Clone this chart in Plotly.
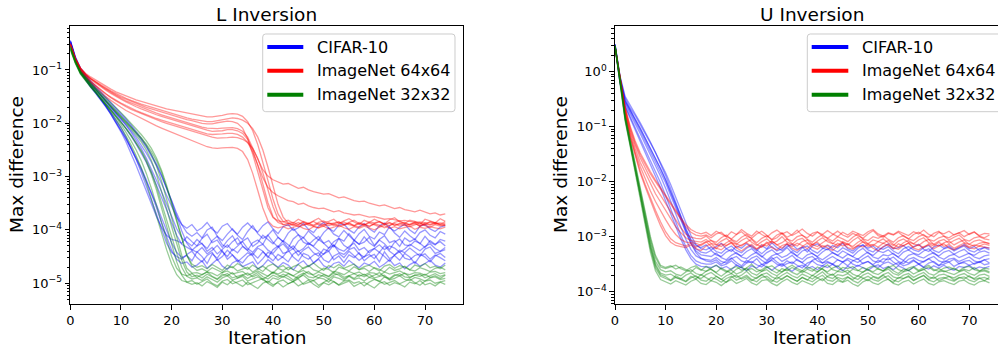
import plotly.graph_objects as go

# ---------------- data (values are log10 of "Max difference", one list per run) -------------
ITERATIONS = list(range(75))

SERIES_NAMES = ["CIFAR-10", "ImageNet 64x64", "ImageNet 32x32"]
SERIES_COLORS = ["#0000ff", "#ff0000", "#008000"]
PANEL_TITLES = ["L Inversion", "U Inversion"]
X_TICKS = [0, 10, 20, 30, 40, 50, 60, 70]
Y_TICK_EXP_L = [-5, -4, -3, -2, -1]
Y_TICK_EXP_U = [-4, -3, -2, -1, 0]

L_CIFAR10 = [
    [-0.46, -0.78, -1.0, -1.13, -1.25, -1.36, -1.47, -1.58, -1.69, -1.8, -1.92, -2.04, -2.17, -2.31, -2.47,
     -2.65, -2.85, -3.06, -3.28, -3.51, -3.75, -3.98, -4.15, -4.22,
     -4.3, -4.18, -4.26, -4.35, -4.2, -4.12, -4.28, -4.33, -4.22, -4.15,
     -4.3, -4.38, -4.24, -4.19, -4.27, -4.1, -4.23, -4.32, -4.2, -4.28,
     -4.36, -4.21, -4.14, -4.26, -4.3, -4.18, -4.25, -4.34, -4.22, -4.16,
     -4.29, -4.35, -4.2, -4.27, -4.13, -4.24, -4.31, -4.19, -4.26, -4.37,
     -4.23, -4.17, -4.28, -4.3, -4.21, -4.25, -4.33, -4.2, -4.27, -4.22, -4.3],
    [-0.48, -0.8, -1.03, -1.17, -1.3, -1.42, -1.54, -1.66, -1.79, -1.93, -2.08, -2.26, -2.46, -2.68, -2.92,
     -3.17, -3.43, -3.7, -3.98, -4.25, -4.42, -4.5,
     -4.55, -4.46, -4.4, -4.52, -4.6, -4.48, -4.42, -4.57, -4.5, -4.38,
     -4.47, -4.56, -4.62, -4.5, -4.44, -4.53, -4.41, -4.49, -4.58, -4.46,
     -4.52, -4.6, -4.45, -4.39, -4.5, -4.55, -4.47, -4.43, -4.56, -4.61,
     -4.49, -4.44, -4.52, -4.4, -4.48, -4.57, -4.5, -4.46, -4.54, -4.42,
     -4.5, -4.59, -4.47, -4.41, -4.53, -4.56, -4.48, -4.45, -4.51, -4.6,
     -4.49, -4.44, -4.52],
    [-0.45, -0.76, -0.97, -1.1, -1.22, -1.33, -1.43, -1.53, -1.63, -1.73, -1.84, -1.95, -2.06, -2.18, -2.31,
     -2.45, -2.61, -2.79, -2.99, -3.21, -3.45, -3.69, -3.9, -4.05, -4.12,
     -4.05, -4.15, -4.0, -3.95, -4.12, -4.2, -4.08, -3.98, -4.1, -4.18,
     -4.03, -3.92, -4.07, -4.16, -4.1, -4.0, -4.14, -4.22, -4.06, -3.97,
     -4.09, -4.15, -4.02, -4.11, -4.19, -4.05, -3.96, -4.08, -4.13, -4.01,
     -4.1, -4.2, -4.07, -3.99, -4.12, -4.17, -4.04, -4.09, -3.94, -4.06,
     -4.14, -4.02, -4.11, -4.18, -4.05, -4.0, -4.1, -4.15, -4.03, -4.08],
    [-0.5, -0.82, -1.05, -1.19, -1.32, -1.44, -1.56, -1.69, -1.83, -1.98, -2.13, -2.29, -2.46, -2.64, -2.84,
     -3.06, -3.31, -3.58, -3.86, -4.13, -4.38, -4.55, -4.63,
     -4.6, -4.7, -4.66, -4.58, -4.72, -4.64, -4.55, -4.68, -4.74, -4.62,
     -4.57, -4.69, -4.65, -4.6, -4.73, -4.67, -4.56, -4.63, -4.7, -4.61,
     -4.66, -4.75, -4.64, -4.58, -4.69, -4.62, -4.55, -4.67, -4.72, -4.63,
     -4.6, -4.68, -4.57, -4.65, -4.71, -4.62, -4.66, -4.59, -4.7, -4.64,
     -4.56, -4.67, -4.62, -4.73, -4.65, -4.6, -4.68, -4.63, -4.57, -4.66,
     -4.7, -4.62],
    [-0.47, -0.79, -1.01, -1.15, -1.27, -1.38, -1.49, -1.6, -1.72, -1.84, -1.97, -2.1, -2.24, -2.39, -2.55,
     -2.73, -2.93, -3.15, -3.38, -3.62, -3.87, -4.1, -4.27, -4.33,
     -4.38, -4.3, -4.25, -4.4, -4.33, -4.45, -4.36, -4.28, -4.39, -4.3,
     -4.22, -4.35, -4.42, -4.31, -4.27, -4.38, -4.44, -4.33, -4.26, -4.37,
     -4.3, -4.41, -4.35, -4.24, -4.32, -4.39, -4.46, -4.34, -4.29, -4.36,
     -4.4, -4.31, -4.25, -4.38, -4.33, -4.43, -4.35, -4.28, -4.37, -4.3,
     -4.34, -4.42, -4.36, -4.27, -4.33, -4.39, -4.31, -4.26, -4.35, -4.4, -4.33],
    [-0.46, -0.77, -0.99, -1.12, -1.24, -1.35, -1.46, -1.57, -1.68, -1.79, -1.9, -2.02, -2.14, -2.27, -2.41,
     -2.56, -2.73, -2.92, -3.13, -3.35, -3.57, -3.76, -3.9, -3.97,
     -3.9, -4.02, -3.96, -3.86, -3.99, -4.06, -3.93, -3.88, -4.0, -4.08,
     -3.95, -3.87, -3.97, -4.04, -3.92, -3.85, -3.98, -4.07, -3.94, -3.9,
     -4.01, -3.96, -3.88, -3.99, -4.05, -3.93, -3.86, -3.97, -4.03, -3.91,
     -3.89, -4.0, -4.06, -3.94, -3.88, -3.98, -4.04, -3.92, -3.87, -3.96,
     -4.02, -3.95, -3.89, -4.0, -4.07, -3.93, -3.9, -3.98, -4.03, -3.95, -3.92],
    [-0.49, -0.81, -1.04, -1.18, -1.31, -1.43, -1.55, -1.68, -1.82, -1.97, -2.13, -2.3, -2.48, -2.67, -2.87,
     -3.08, -3.3, -3.53, -3.77, -4.01, -4.24, -4.42, -4.52,
     -4.48, -4.58, -4.41, -4.5, -4.63, -4.45, -4.53, -4.39, -4.55, -4.47,
     -4.6, -4.52, -4.43, -4.49, -4.64, -4.54, -4.42, -4.46, -4.57, -4.5,
     -4.38, -4.51, -4.59, -4.44, -4.48, -4.62, -4.53, -4.45, -4.4, -4.56,
     -4.49, -4.61, -4.47, -4.52, -4.43, -4.58, -4.5, -4.46, -4.6, -4.41,
     -4.54, -4.48, -4.57, -4.44, -4.51, -4.63, -4.49, -4.45, -4.55, -4.47,
     -4.52, -4.58],
    [-0.47, -0.79, -1.02, -1.16, -1.29, -1.41, -1.54, -1.68, -1.83, -1.99, -2.16, -2.35, -2.56, -2.79, -3.03,
     -3.28, -3.52, -3.75, -3.95, -4.1, -4.18, -4.2,
     -4.25, -4.13, -4.22, -4.3, -4.16, -4.08, -4.24, -4.19, -4.33, -4.2,
     -4.11, -4.27, -4.21, -4.15, -4.31, -4.24, -4.1, -4.18, -4.26, -4.14,
     -4.22, -4.34, -4.17, -4.09, -4.23, -4.28, -4.19, -4.12, -4.25, -4.2,
     -4.32, -4.16, -4.21, -4.07, -4.19, -4.27, -4.23, -4.14, -4.29, -4.18,
     -4.11, -4.24, -4.2, -4.31, -4.15, -4.22, -4.17, -4.26, -4.12, -4.23,
     -4.28, -4.18, -4.21],
    [-0.44, -0.75, -0.96, -1.09, -1.2, -1.3, -1.4, -1.5, -1.6, -1.7, -1.81, -1.92, -2.03, -2.15, -2.28,
     -2.42, -2.58, -2.76, -2.97, -3.2, -3.46, -3.74, -4.02, -4.25, -4.37,
     -4.42, -4.33, -4.45, -4.38, -4.29, -4.41, -4.5, -4.36, -4.43, -4.31,
     -4.39, -4.47, -4.34, -4.4, -4.52, -4.37, -4.3, -4.44, -4.41, -4.35,
     -4.48, -4.38, -4.32, -4.43, -4.49, -4.36, -4.4, -4.28, -4.42, -4.46,
     -4.37, -4.33, -4.45, -4.51, -4.39, -4.35, -4.42, -4.3, -4.4, -4.47,
     -4.38, -4.43, -4.34, -4.41, -4.49, -4.36, -4.32, -4.44, -4.4, -4.37],
]

L_IMAGENET64 = [
    [-0.52, -0.8, -0.99, -1.1, -1.18, -1.25, -1.32, -1.38, -1.44, -1.5, -1.55, -1.6, -1.65, -1.69, -1.73,
     -1.77, -1.81, -1.84, -1.87, -1.9, -1.93, -1.96, -1.99, -2.02, -2.05, -2.08, -2.11, -2.13, -2.15, -2.15,
     -2.14, -2.12, -2.12, -2.14, -2.19, -2.3, -2.5, -2.79, -3.14, -3.49, -3.75, -3.86, -3.9,
     -3.88, -3.92, -3.9, -3.86, -3.91, -3.93, -3.88, -3.9, -3.87, -3.92,
     -3.89, -3.85, -3.9, -3.93, -3.88, -3.91, -3.87, -3.9, -3.94, -3.89,
     -3.86, -3.91, -3.88, -3.92, -3.9, -3.87, -3.93, -3.89, -3.91, -3.88, -3.9, -3.92],
    [-0.5, -0.78, -0.96, -1.06, -1.13, -1.19, -1.25, -1.31, -1.36, -1.41, -1.45, -1.49, -1.53, -1.56, -1.59,
     -1.62, -1.65, -1.68, -1.71, -1.73, -1.75, -1.77, -1.79, -1.81, -1.83, -1.85, -1.87, -1.88, -1.88, -1.87,
     -1.85, -1.83, -1.82, -1.83, -1.87, -1.97, -2.14, -2.4, -2.72, -3.07, -3.42, -3.7, -3.84, -3.88,
     -3.86, -3.9, -3.84, -3.88, -3.91, -3.86, -3.83, -3.89, -3.87, -3.85,
     -3.9, -3.86, -3.82, -3.88, -3.91, -3.85, -3.87, -3.84, -3.89, -3.92,
     -3.86, -3.83, -3.88, -3.9, -3.85, -3.87, -3.91, -3.84, -3.86, -3.89, -3.85],
    [-0.54, -0.83, -1.02, -1.14, -1.24, -1.33, -1.42, -1.5, -1.57, -1.64, -1.7, -1.76, -1.81, -1.86, -1.91,
     -1.96, -2.01, -2.05, -2.09, -2.13, -2.17, -2.21, -2.25, -2.29, -2.33, -2.37, -2.41, -2.44, -2.46, -2.47,
     -2.46, -2.45, -2.45, -2.47, -2.53, -2.68, -2.94, -3.26, -3.59, -3.83, -3.93, -3.96,
     -3.94, -3.98, -3.95, -3.92, -3.97, -4.0, -3.94, -3.96, -3.93, -3.98,
     -3.95, -3.91, -3.96, -3.99, -3.94, -3.97, -3.93, -3.96, -4.0, -3.95,
     -3.92, -3.97, -3.94, -3.98, -3.96, -3.93, -3.99, -3.95, -3.97, -3.94,
     -3.96, -3.98, -3.95],
    [-0.52, -0.79, -0.97, -1.08, -1.16, -1.23, -1.3, -1.36, -1.42, -1.48, -1.53, -1.58, -1.62, -1.66, -1.7,
     -1.74, -1.78, -1.81, -1.84, -1.87, -1.9, -1.93, -1.96, -1.99, -2.02, -2.05, -2.07, -2.09, -2.1, -2.1,
     -2.09, -2.08, -2.08, -2.1, -2.15, -2.26, -2.45, -2.67, -2.87, -2.99,
     -3.06, -3.1, -3.14, -3.13, -3.18, -3.22, -3.2, -3.25, -3.28, -3.3,
     -3.33, -3.32, -3.36, -3.4, -3.38, -3.42, -3.45, -3.47, -3.46, -3.5,
     -3.52, -3.55, -3.53, -3.57, -3.6, -3.58, -3.62, -3.64, -3.66, -3.63,
     -3.67, -3.7, -3.68, -3.72, -3.7],
    [-0.51, -0.79, -0.97, -1.08, -1.16, -1.23, -1.29, -1.35, -1.41, -1.46, -1.51, -1.55, -1.59, -1.63, -1.67,
     -1.7, -1.73, -1.76, -1.79, -1.82, -1.84, -1.87, -1.9, -1.93, -1.95, -1.98, -2.0, -2.01, -2.01, -1.99,
     -1.97, -1.96, -1.97, -2.0, -2.09, -2.29, -2.58, -2.93, -3.28, -3.58, -3.77, -3.83, -3.85,
     -3.82, -3.87, -3.8, -3.85, -3.89, -3.83, -3.78, -3.86, -3.84, -3.8,
     -3.88, -3.83, -3.79, -3.85, -3.9, -3.82, -3.86, -3.8, -3.84, -3.89,
     -3.81, -3.77, -3.85, -3.88, -3.82, -3.84, -3.9, -3.8, -3.83, -3.87, -3.79, -3.84],
    [-0.53, -0.81, -1.0, -1.12, -1.21, -1.29, -1.37, -1.45, -1.52, -1.58, -1.64, -1.69, -1.74, -1.78, -1.82,
     -1.86, -1.9, -1.94, -1.97, -2.0, -2.03, -2.06, -2.09, -2.12, -2.15, -2.18, -2.21, -2.24, -2.26, -2.28,
     -2.28, -2.27, -2.26, -2.27, -2.3, -2.36, -2.47, -2.66, -2.93, -3.25, -3.56, -3.8, -3.9,
     -3.92, -3.89, -3.94, -3.91, -3.88, -3.93, -3.96, -3.9, -3.92, -3.89,
     -3.94, -3.91, -3.87, -3.92, -3.95, -3.9, -3.93, -3.89, -3.91, -3.96,
     -3.92, -3.88, -3.93, -3.9, -3.94, -3.91, -3.87, -3.92, -3.95, -3.9, -3.93, -3.91],
    [-0.5, -0.79, -0.97, -1.08, -1.16, -1.22, -1.28, -1.34, -1.39, -1.44, -1.49, -1.53, -1.57, -1.61, -1.64,
     -1.67, -1.7, -1.73, -1.76, -1.79, -1.82, -1.85, -1.87, -1.9, -1.92, -1.94, -1.96, -1.97, -1.97, -1.95,
     -1.93, -1.91, -1.9, -1.91, -1.94, -2.0, -2.1, -2.26, -2.5, -2.82, -3.18, -3.52, -3.76, -3.87,
     -3.9, -3.86, -3.91, -3.88, -3.84, -3.9, -3.93, -3.87, -3.89, -3.85,
     -3.91, -3.88, -3.92, -3.86, -3.89, -3.94, -3.88, -3.85, -3.9, -3.87,
     -3.92, -3.89, -3.86, -3.91, -3.88, -3.93, -3.87, -3.9, -3.86, -3.91, -3.89],
    [-0.53, -0.82, -1.01, -1.13, -1.22, -1.3, -1.38, -1.45, -1.51, -1.57, -1.62, -1.67, -1.72, -1.76, -1.8,
     -1.84, -1.88, -1.91, -1.94, -1.97, -2.0, -2.03, -2.06, -2.09, -2.12, -2.15, -2.18, -2.2, -2.21, -2.21,
     -2.2, -2.19, -2.19, -2.21, -2.26, -2.36, -2.54, -2.78, -3.02, -3.2, -3.3,
     -3.36, -3.4, -3.45, -3.47, -3.52, -3.5, -3.55, -3.58, -3.6, -3.59,
     -3.63, -3.66, -3.64, -3.68, -3.7, -3.72, -3.71, -3.74, -3.76, -3.75,
     -3.78, -3.8, -3.79, -3.81, -3.83, -3.82, -3.84, -3.86, -3.85, -3.87,
     -3.86, -3.88, -3.87, -3.89],
]

L_IMAGENET32 = [
    [-0.58, -0.85, -1.05, -1.17, -1.28, -1.38, -1.48, -1.58, -1.68, -1.78, -1.89, -2.0, -2.11, -2.22, -2.35,
     -2.5, -2.7, -2.96, -3.27, -3.6, -3.94, -4.27, -4.57, -4.79, -4.88,
     -4.85, -4.9, -4.83, -4.88, -4.93, -4.86, -4.82, -4.9, -4.87, -4.84,
     -4.91, -4.86, -4.8, -4.88, -4.92, -4.85, -4.89, -4.83, -4.87, -4.94,
     -4.86, -4.81, -4.88, -4.9, -4.84, -4.87, -4.92, -4.85, -4.82, -4.89,
     -4.86, -4.91, -4.84, -4.88, -4.83, -4.9, -4.87, -4.85, -4.93, -4.86,
     -4.82, -4.88, -4.9, -4.85, -4.87, -4.83, -4.89, -4.86, -4.91, -4.85],
    [-0.62, -0.88, -1.08, -1.21, -1.32, -1.43, -1.54, -1.66, -1.79, -1.93, -2.08, -2.24, -2.41, -2.61, -2.84,
     -3.11, -3.41, -3.73, -4.05, -4.37, -4.64, -4.84, -4.95, -4.98,
     -4.95, -5.02, -4.97, -4.92, -5.0, -5.05, -4.96, -4.93, -5.01, -4.98,
     -4.94, -5.03, -4.99, -4.95, -4.91, -5.0, -5.06, -4.97, -4.94, -5.01,
     -4.96, -4.92, -5.02, -4.98, -4.95, -5.04, -4.99, -4.93, -4.97, -5.03,
     -4.96, -4.94, -5.0, -4.97, -5.05, -4.98, -4.93, -4.96, -5.02, -4.99,
     -4.95, -5.01, -4.97, -4.92, -4.99, -5.04, -4.96, -4.94, -5.0, -4.97, -4.95],
    [-0.55, -0.82, -1.02, -1.14, -1.24, -1.34, -1.43, -1.52, -1.61, -1.7, -1.8, -1.9, -2.0, -2.1, -2.21,
     -2.33, -2.47, -2.65, -2.88, -3.16, -3.48, -3.82, -4.16, -4.47, -4.68, -4.76,
     -4.73, -4.78, -4.71, -4.76, -4.8, -4.72, -4.69, -4.77, -4.74, -4.7,
     -4.79, -4.73, -4.68, -4.75, -4.81, -4.72, -4.76, -4.7, -4.74, -4.79,
     -4.71, -4.67, -4.75, -4.78, -4.72, -4.74, -4.8, -4.7, -4.73, -4.77,
     -4.69, -4.75, -4.72, -4.78, -4.71, -4.74, -4.79, -4.7, -4.76, -4.73,
     -4.68, -4.75, -4.77, -4.71, -4.74, -4.78, -4.72, -4.7, -4.75],
    [-0.6, -0.86, -1.06, -1.19, -1.3, -1.41, -1.52, -1.63, -1.74, -1.85, -1.97, -2.09, -2.22, -2.36, -2.51,
     -2.69, -2.91, -3.18, -3.49, -3.81, -4.13, -4.44, -4.7, -4.87, -4.92,
     -4.9, -4.95, -4.88, -4.93, -4.98, -4.9, -4.86, -4.94, -4.91, -4.87,
     -4.96, -4.92, -4.88, -4.94, -4.99, -4.9, -4.93, -4.87, -4.92, -4.97,
     -4.89, -4.85, -4.93, -4.95, -4.9, -4.92, -4.98, -4.88, -4.91, -4.95,
     -4.87, -4.93, -4.9, -4.96, -4.89, -4.92, -4.97, -4.88, -4.94, -4.91,
     -4.86, -4.93, -4.95, -4.89, -4.92, -4.96, -4.9, -4.88, -4.93, -4.91],
    [-0.57, -0.84, -1.04, -1.16, -1.27, -1.37, -1.47, -1.57, -1.67, -1.77, -1.87, -1.97, -2.07, -2.18, -2.29,
     -2.42, -2.58, -2.8, -3.08, -3.42, -3.78, -4.14, -4.48, -4.72, -4.81,
     -4.8, -4.84, -4.79, -4.81, -4.86, -4.8, -4.77, -4.83, -4.8, -4.78,
     -4.85, -4.81, -4.77, -4.82, -4.87, -4.79, -4.83, -4.78, -4.81, -4.86,
     -4.8, -4.76, -4.82, -4.84, -4.79, -4.83, -4.87, -4.78, -4.8, -4.84,
     -4.78, -4.82, -4.79, -4.85, -4.8, -4.81, -4.86, -4.79, -4.83, -4.8,
     -4.77, -4.82, -4.84, -4.8, -4.81, -4.85, -4.79, -4.78, -4.82, -4.8],
    [-0.59, -0.86, -1.06, -1.19, -1.3, -1.41, -1.52, -1.63, -1.75, -1.88, -2.02, -2.17, -2.33, -2.5, -2.7,
     -2.94, -3.22, -3.53, -3.86, -4.19, -4.5, -4.72, -4.83, -4.86,
     -4.82, -4.89, -4.84, -4.79, -4.87, -4.92, -4.83, -4.86, -4.8, -4.9,
     -4.85, -4.81, -4.88, -4.84, -4.93, -4.86, -4.8, -4.85, -4.89, -4.82,
     -4.87, -4.91, -4.83, -4.78, -4.86, -4.9, -4.84, -4.88, -4.81, -4.85,
     -4.92, -4.86, -4.82, -4.87, -4.83, -4.89, -4.85, -4.8, -4.88, -4.91,
     -4.84, -4.86, -4.81, -4.89, -4.85, -4.83, -4.9, -4.86, -4.82, -4.87, -4.84],
    [-0.61, -0.87, -1.07, -1.2, -1.31, -1.42, -1.53, -1.64, -1.75, -1.86, -1.98, -2.1, -2.23, -2.37, -2.53,
     -2.72, -2.96, -3.25, -3.58, -3.93, -4.28, -4.6, -4.85, -4.98, -5.02,
     -4.99, -5.05, -4.97, -5.02, -5.08, -4.98, -5.03, -4.95, -5.01, -5.06,
     -4.98, -5.04, -5.1, -5.0, -4.96, -5.03, -4.99, -5.07, -5.01, -4.97,
     -5.05, -5.0, -4.94, -5.02, -5.08, -4.99, -5.03, -4.97, -5.04, -5.0,
     -4.96, -5.06, -5.01, -4.98, -5.03, -5.09, -5.0, -4.97, -5.04, -4.99,
     -5.02, -5.07, -4.98, -5.01, -4.95, -5.03, -5.0, -5.05, -4.98, -5.02],
    [-0.56, -0.83, -1.03, -1.15, -1.26, -1.36, -1.46, -1.56, -1.66, -1.76, -1.86, -1.96, -2.06, -2.16, -2.27,
     -2.39, -2.53, -2.7, -2.92, -3.2, -3.52, -3.86, -4.2, -4.48, -4.64, -4.7,
     -4.67, -4.73, -4.65, -4.7, -4.76, -4.66, -4.71, -4.63, -4.69, -4.74,
     -4.66, -4.72, -4.78, -4.68, -4.64, -4.71, -4.67, -4.75, -4.69, -4.65,
     -4.73, -4.68, -4.62, -4.7, -4.76, -4.67, -4.71, -4.65, -4.72, -4.68,
     -4.64, -4.74, -4.69, -4.66, -4.71, -4.77, -4.68, -4.65, -4.72, -4.67,
     -4.7, -4.75, -4.66, -4.69, -4.63, -4.71, -4.68, -4.73, -4.66],
]

U_CIFAR10 = [
    [0.48, -0.15, -0.55, -0.74, -0.9, -1.08, -1.27, -1.45, -1.63, -1.82, -2.02, -2.25, -2.48, -2.7, -2.92,
     -3.12, -3.26, -3.33, -3.35,
     -3.36, -3.3, -3.38, -3.42, -3.34, -3.29, -3.37, -3.4, -3.33, -3.28,
     -3.36, -3.43, -3.35, -3.31, -3.38, -3.34, -3.27, -3.36, -3.41, -3.33,
     -3.3, -3.37, -3.42, -3.35, -3.29, -3.34, -3.39, -3.32, -3.36, -3.41,
     -3.34, -3.28, -3.37, -3.4, -3.33, -3.35, -3.3, -3.38, -3.43, -3.34,
     -3.31, -3.36, -3.39, -3.33, -3.29, -3.37, -3.41, -3.35, -3.32, -3.38,
     -3.34, -3.3, -3.37, -3.4, -3.35, -3.33],
    [0.47, -0.2, -0.62, -0.82, -1.0, -1.2, -1.4, -1.6, -1.8, -2.02, -2.25, -2.5, -2.74, -2.97, -3.18,
     -3.34, -3.44, -3.48, -3.5, -3.5,
     -3.46, -3.53, -3.5, -3.44, -3.52, -3.56, -3.48, -3.45, -3.51, -3.55,
     -3.47, -3.43, -3.5, -3.54, -3.49, -3.46, -3.52, -3.57, -3.48, -3.44,
     -3.51, -3.53, -3.47, -3.5, -3.55, -3.46, -3.42, -3.5, -3.54, -3.48,
     -3.45, -3.52, -3.56, -3.49, -3.46, -3.51, -3.47, -3.53, -3.5, -3.44,
     -3.49, -3.55, -3.48, -3.45, -3.52, -3.5, -3.46, -3.54, -3.49, -3.47,
     -3.52, -3.48, -3.45, -3.51, -3.49],
    [0.5, -0.1, -0.48, -0.66, -0.8, -0.96, -1.13, -1.3, -1.47, -1.65, -1.84, -2.05, -2.28, -2.52, -2.76,
     -2.98, -3.14, -3.22,
     -3.24, -3.19, -3.27, -3.3, -3.22, -3.17, -3.25, -3.29, -3.21, -3.16,
     -3.24, -3.31, -3.23, -3.18, -3.26, -3.22, -3.14, -3.24, -3.29, -3.2,
     -3.17, -3.25, -3.3, -3.22, -3.16, -3.23, -3.28, -3.2, -3.25, -3.3,
     -3.21, -3.15, -3.24, -3.28, -3.2, -3.23, -3.18, -3.26, -3.31, -3.22,
     -3.18, -3.24, -3.27, -3.2, -3.16, -3.25, -3.29, -3.22, -3.19, -3.26,
     -3.21, -3.17, -3.25, -3.28, -3.22, -3.2, -3.24],
    [0.47, -0.18, -0.58, -0.78, -0.95, -1.13, -1.32, -1.51, -1.7, -1.9, -2.12, -2.36, -2.6, -2.83, -3.05,
     -3.23, -3.35, -3.4, -3.42,
     -3.43, -3.38, -3.45, -3.48, -3.4, -3.36, -3.44, -3.47, -3.39, -3.35,
     -3.43, -3.49, -3.41, -3.37, -3.45, -3.4, -3.34, -3.43, -3.47, -3.39,
     -3.36, -3.44, -3.48, -3.41, -3.36, -3.42, -3.46, -3.39, -3.43, -3.47,
     -3.4, -3.35, -3.44, -3.47, -3.4, -3.42, -3.37, -3.45, -3.49, -3.41,
     -3.38, -3.43, -3.46, -3.4, -3.36, -3.44, -3.47, -3.41, -3.39, -3.45,
     -3.41, -3.37, -3.44, -3.47, -3.42, -3.4],
    [0.49, -0.12, -0.52, -0.7, -0.86, -1.03, -1.21, -1.39, -1.57, -1.76, -1.96, -2.18, -2.41, -2.64, -2.87,
     -3.07, -3.22, -3.28,
     -3.3, -3.25, -3.33, -3.36, -3.28, -3.23, -3.31, -3.35, -3.27, -3.22,
     -3.3, -3.37, -3.29, -3.24, -3.32, -3.28, -3.2, -3.3, -3.35, -3.26,
     -3.23, -3.31, -3.36, -3.28, -3.22, -3.29, -3.34, -3.26, -3.31, -3.36,
     -3.27, -3.21, -3.3, -3.34, -3.26, -3.29, -3.24, -3.32, -3.37, -3.28,
     -3.24, -3.3, -3.33, -3.26, -3.22, -3.31, -3.35, -3.28, -3.25, -3.32,
     -3.27, -3.23, -3.31, -3.34, -3.28, -3.26, -3.3],
    [0.49, -0.13, -0.53, -0.71, -0.87, -1.04, -1.22, -1.4, -1.58, -1.77, -1.97, -2.19, -2.42, -2.66, -2.9,
     -3.12, -3.29, -3.39, -3.44, -3.46,
     -3.42, -3.5, -3.44, -3.39, -3.47, -3.53, -3.43, -3.48, -3.4, -3.51,
     -3.45, -3.38, -3.46, -3.52, -3.44, -3.49, -3.41, -3.47, -3.54, -3.43,
     -3.39, -3.48, -3.45, -3.5, -3.42, -3.46, -3.53, -3.44, -3.4, -3.49,
     -3.45, -3.51, -3.43, -3.47, -3.38, -3.46, -3.52, -3.44, -3.48, -3.42,
     -3.5, -3.45, -3.4, -3.47, -3.53, -3.44, -3.46, -3.41, -3.49, -3.45,
     -3.43, -3.5, -3.46, -3.42, -3.48],
    [0.5, -0.08, -0.45, -0.62, -0.77, -0.93, -1.1, -1.28, -1.47, -1.67, -1.89, -2.13, -2.38, -2.63, -2.87,
     -3.05, -3.16,
     -3.2, -3.15, -3.24, -3.18, -3.12, -3.22, -3.27, -3.17, -3.21, -3.13,
     -3.19, -3.26, -3.16, -3.22, -3.11, -3.2, -3.25, -3.18, -3.14, -3.23,
     -3.19, -3.28, -3.17, -3.13, -3.21, -3.24, -3.16, -3.2, -3.12, -3.22,
     -3.26, -3.18, -3.15, -3.21, -3.17, -3.25, -3.19, -3.13, -3.22, -3.2,
     -3.16, -3.24, -3.18, -3.14, -3.23, -3.27, -3.19, -3.15, -3.21, -3.17,
     -3.24, -3.2, -3.14, -3.22, -3.18, -3.25, -3.19, -3.21],
    [0.46, -0.21, -0.64, -0.85, -1.04, -1.24, -1.45, -1.66, -1.88, -2.11, -2.35, -2.59, -2.82, -3.04, -3.24,
     -3.4, -3.5, -3.54, -3.55, -3.56,
     -3.52, -3.58, -3.54, -3.6, -3.51, -3.56, -3.62, -3.53, -3.57, -3.5,
     -3.55, -3.61, -3.54, -3.49, -3.57, -3.63, -3.55, -3.52, -3.58, -3.54,
     -3.6, -3.53, -3.56, -3.5, -3.57, -3.62, -3.54, -3.58, -3.52, -3.56,
     -3.61, -3.55, -3.51, -3.58, -3.54, -3.6, -3.53, -3.57, -3.62, -3.55,
     -3.5, -3.56, -3.59, -3.53, -3.57, -3.52, -3.58, -3.61, -3.54, -3.56,
     -3.52, -3.59, -3.55, -3.57, -3.54],
]

U_IMAGENET64 = [
    [0.46, -0.1, -0.7, -1.1, -1.4, -1.65, -1.85, -2.05, -2.22, -2.37, -2.52, -2.67, -2.82, -2.93, -3.02,
     -3.07, -3.09,
     -3.1, -3.05, -3.12, -3.15, -3.08, -3.03, -3.11, -3.14, -3.07, -3.02,
     -3.1, -3.16, -3.09, -3.04, -3.12, -3.08, -3.0, -3.1, -3.14, -3.06,
     -3.03, -3.11, -3.15, -3.08, -3.02, -3.09, -3.13, -3.06, -3.1, -3.15,
     -3.07, -3.01, -3.1, -3.13, -3.06, -3.09, -3.04, -3.11, -3.16, -3.08,
     -3.04, -3.1, -3.13, -3.06, -3.02, -3.11, -3.14, -3.08, -3.05, -3.12,
     -3.07, -3.03, -3.11, -3.14, -3.08, -3.06, -3.1, -3.12],
    [0.45, -0.12, -0.75, -1.2, -1.55, -1.85, -2.1, -2.35, -2.58, -2.8, -2.98, -3.1, -3.16,
     -3.18, -3.2, -3.15, -3.22, -3.25, -3.17, -3.13, -3.21, -3.24, -3.16,
     -3.12, -3.2, -3.26, -3.19, -3.14, -3.22, -3.18, -3.1, -3.2, -3.24,
     -3.16, -3.13, -3.21, -3.25, -3.18, -3.12, -3.19, -3.23, -3.16, -3.2,
     -3.25, -3.17, -3.11, -3.2, -3.23, -3.16, -3.19, -3.14, -3.21, -3.26,
     -3.18, -3.14, -3.2, -3.23, -3.16, -3.12, -3.21, -3.24, -3.18, -3.15,
     -3.22, -3.17, -3.13, -3.21, -3.24, -3.18, -3.16, -3.2, -3.22, -3.17,
     -3.19, -3.21],
    [0.46, -0.08, -0.66, -1.02, -1.3, -1.52, -1.7, -1.86, -2.0, -2.14, -2.28, -2.42, -2.56, -2.7, -2.82,
     -2.92, -2.97, -2.99,
     -2.97, -3.02, -2.95, -2.92, -3.0, -3.04, -2.96, -2.91, -2.99, -3.03,
     -2.95, -2.9, -2.98, -3.05, -2.97, -2.93, -3.01, -2.96, -2.88, -2.98,
     -3.02, -2.94, -2.91, -2.99, -3.03, -2.96, -2.9, -2.97, -3.01, -2.94,
     -2.98, -3.03, -2.95, -2.89, -2.98, -3.01, -2.94, -2.97, -2.92, -2.99,
     -3.04, -2.96, -2.92, -2.98, -3.01, -2.94, -2.9, -2.99, -3.02, -2.96,
     -2.93, -3.0, -2.95, -2.91, -2.99, -3.02, -2.97],
    [0.45, -0.11, -0.72, -1.14, -1.46, -1.73, -1.96, -2.17, -2.36, -2.53, -2.69, -2.84, -2.96, -3.05, -3.1,
     -3.11,
     -3.12, -3.16, -3.1, -3.07, -3.14, -3.18, -3.11, -3.06, -3.13, -3.17,
     -3.1, -3.05, -3.14, -3.19, -3.12, -3.08, -3.15, -3.11, -3.04, -3.13,
     -3.17, -3.09, -3.06, -3.14, -3.18, -3.11, -3.05, -3.12, -3.16, -3.09,
     -3.13, -3.18, -3.1, -3.05, -3.13, -3.16, -3.09, -3.12, -3.07, -3.14,
     -3.19, -3.11, -3.07, -3.13, -3.16, -3.09, -3.05, -3.14, -3.17, -3.11,
     -3.08, -3.15, -3.1, -3.06, -3.14, -3.17, -3.12, -3.1, -3.13],
    [0.46, -0.09, -0.68, -1.06, -1.34, -1.57, -1.76, -1.94, -2.1, -2.25, -2.4, -2.55, -2.7, -2.84, -2.95,
     -3.01, -3.03,
     -3.04, -2.99, -3.07, -3.1, -3.02, -2.97, -3.05, -3.09, -3.01, -2.96,
     -3.04, -3.11, -3.03, -2.98, -3.06, -3.02, -2.94, -3.04, -3.08, -3.0,
     -2.97, -3.05, -3.1, -3.02, -2.96, -3.03, -3.08, -3.0, -3.04, -3.09,
     -3.01, -2.95, -3.04, -3.07, -3.0, -3.03, -2.98, -3.05, -3.1, -3.02,
     -2.98, -3.04, -3.07, -3.0, -2.96, -3.05, -3.08, -3.02, -2.99, -3.06,
     -3.01, -2.97, -3.05, -3.08, -3.02, -3.0, -3.04, -3.06],
    [0.45, -0.12, -0.74, -1.18, -1.52, -1.81, -2.06, -2.3, -2.52, -2.73, -2.91, -3.04, -3.11, -3.14,
     -3.17, -3.12, -3.19, -3.14, -3.09, -3.18, -3.22, -3.13, -3.16, -3.1,
     -3.2, -3.15, -3.11, -3.18, -3.23, -3.14, -3.17, -3.08, -3.15, -3.21,
     -3.13, -3.18, -3.12, -3.16, -3.22, -3.14, -3.1, -3.19, -3.15, -3.2,
     -3.12, -3.17, -3.13, -3.21, -3.16, -3.09, -3.18, -3.14, -3.19, -3.12,
     -3.16, -3.22, -3.13, -3.17, -3.11, -3.19, -3.15, -3.2, -3.13, -3.17,
     -3.1, -3.18, -3.14, -3.21, -3.16, -3.12, -3.19, -3.15, -3.17, -3.13,
     -3.16],
    [0.46, -0.07, -0.64, -0.99, -1.26, -1.48, -1.66, -1.82, -1.97, -2.11, -2.25, -2.39, -2.53, -2.66, -2.78,
     -2.87, -2.92, -2.95,
     -2.92, -2.98, -2.9, -2.95, -3.0, -2.91, -2.96, -2.87, -2.94, -2.99,
     -2.9, -2.96, -3.01, -2.93, -2.88, -2.95, -2.91, -2.98, -2.93, -2.86,
     -2.94, -2.99, -2.92, -2.96, -2.89, -2.95, -3.0, -2.92, -2.97, -2.9,
     -2.94, -2.98, -2.91, -2.87, -2.95, -2.99, -2.93, -2.96, -2.9, -2.94,
     -2.98, -2.91, -2.95, -2.88, -2.96, -3.0, -2.92, -2.95, -2.9, -2.97,
     -2.93, -2.89, -2.96, -2.92, -2.98, -2.94, -2.95],
]

U_IMAGENET32 = [
    [0.47, -0.15, -0.85, -1.3, -1.75, -2.2, -2.7, -3.15, -3.5, -3.66,
     -3.7, -3.68, -3.74, -3.77, -3.7, -3.66, -3.73, -3.76, -3.69, -3.65,
     -3.72, -3.78, -3.71, -3.67, -3.74, -3.7, -3.63, -3.72, -3.76, -3.69,
     -3.66, -3.73, -3.77, -3.7, -3.65, -3.71, -3.75, -3.68, -3.72, -3.77,
     -3.7, -3.64, -3.73, -3.76, -3.69, -3.71, -3.67, -3.74, -3.78, -3.7,
     -3.66, -3.72, -3.75, -3.69, -3.65, -3.73, -3.76, -3.7, -3.67, -3.74,
     -3.69, -3.65, -3.73, -3.76, -3.7, -3.68, -3.72, -3.75, -3.7, -3.67,
     -3.73, -3.76, -3.7, -3.68, -3.72],
    [0.46, -0.18, -0.9, -1.36, -1.82, -2.3, -2.8, -3.28, -3.62, -3.78,
     -3.82, -3.86, -3.8, -3.84, -3.88, -3.81, -3.77, -3.85, -3.87, -3.8,
     -3.83, -3.89, -3.82, -3.78, -3.85, -3.81, -3.76, -3.84, -3.88, -3.8,
     -3.78, -3.85, -3.89, -3.82, -3.77, -3.83, -3.87, -3.8, -3.84, -3.88,
     -3.81, -3.76, -3.85, -3.87, -3.8, -3.83, -3.79, -3.86, -3.9, -3.82,
     -3.78, -3.84, -3.87, -3.81, -3.77, -3.85, -3.88, -3.82, -3.79, -3.86,
     -3.81, -3.77, -3.85, -3.88, -3.82, -3.8, -3.84, -3.87, -3.81, -3.79,
     -3.85, -3.88, -3.82, -3.8, -3.84],
    [0.47, -0.12, -0.8, -1.25, -1.7, -2.15, -2.62, -3.05, -3.38, -3.55, -3.58,
     -3.55, -3.52, -3.58, -3.62, -3.56, -3.53, -3.6, -3.63, -3.57, -3.52,
     -3.59, -3.64, -3.58, -3.54, -3.61, -3.57, -3.5, -3.59, -3.63, -3.56,
     -3.53, -3.6, -3.64, -3.57, -3.52, -3.58, -3.62, -3.55, -3.59, -3.64,
     -3.57, -3.51, -3.6, -3.63, -3.56, -3.58, -3.54, -3.61, -3.65, -3.57,
     -3.53, -3.59, -3.62, -3.56, -3.52, -3.6, -3.63, -3.57, -3.54, -3.61,
     -3.56, -3.52, -3.6, -3.63, -3.57, -3.55, -3.59, -3.62, -3.56, -3.54,
     -3.6, -3.63, -3.57, -3.59],
    [0.46, -0.16, -0.87, -1.33, -1.78, -2.25, -2.75, -3.22, -3.57, -3.72,
     -3.76, -3.8, -3.74, -3.78, -3.82, -3.75, -3.71, -3.79, -3.81, -3.74,
     -3.77, -3.83, -3.76, -3.72, -3.79, -3.75, -3.7, -3.78, -3.82, -3.74,
     -3.72, -3.79, -3.83, -3.76, -3.71, -3.77, -3.81, -3.74, -3.78, -3.82,
     -3.75, -3.7, -3.79, -3.81, -3.74, -3.77, -3.73, -3.8, -3.84, -3.76,
     -3.72, -3.78, -3.81, -3.75, -3.71, -3.79, -3.82, -3.76, -3.73, -3.8,
     -3.75, -3.71, -3.79, -3.82, -3.76, -3.74, -3.78, -3.81, -3.75, -3.73,
     -3.79, -3.82, -3.76, -3.74, -3.78],
    [0.48, -0.13, -0.83, -1.28, -1.73, -2.18, -2.66, -3.1, -3.45, -3.6,
     -3.64, -3.62, -3.68, -3.71, -3.64, -3.6, -3.67, -3.7, -3.63, -3.59,
     -3.66, -3.72, -3.65, -3.61, -3.68, -3.64, -3.57, -3.66, -3.7, -3.63,
     -3.6, -3.67, -3.71, -3.64, -3.59, -3.65, -3.69, -3.62, -3.66, -3.71,
     -3.64, -3.58, -3.67, -3.7, -3.63, -3.65, -3.61, -3.68, -3.72, -3.64,
     -3.6, -3.66, -3.69, -3.63, -3.59, -3.67, -3.7, -3.64, -3.61, -3.68,
     -3.63, -3.59, -3.67, -3.7, -3.64, -3.62, -3.66, -3.69, -3.64, -3.61,
     -3.67, -3.7, -3.64, -3.62, -3.66],
    [0.47, -0.14, -0.86, -1.32, -1.77, -2.23, -2.73, -3.19, -3.53, -3.69,
     -3.73, -3.79, -3.71, -3.76, -3.81, -3.72, -3.77, -3.69, -3.75, -3.8,
     -3.72, -3.78, -3.83, -3.74, -3.7, -3.77, -3.73, -3.8, -3.75, -3.69,
     -3.76, -3.82, -3.73, -3.78, -3.71, -3.76, -3.81, -3.74, -3.79, -3.7,
     -3.75, -3.8, -3.72, -3.68, -3.77, -3.82, -3.74, -3.78, -3.71, -3.76,
     -3.8, -3.73, -3.77, -3.7, -3.78, -3.83, -3.74, -3.76, -3.71, -3.79,
     -3.75, -3.7, -3.78, -3.73, -3.8, -3.76, -3.72, -3.79, -3.74, -3.77,
     -3.71, -3.78, -3.75, -3.8, -3.74],
    [0.48, -0.11, -0.79, -1.23, -1.67, -2.12, -2.58, -3.0, -3.34, -3.52, -3.56,
     -3.53, -3.59, -3.55, -3.6, -3.64, -3.56, -3.61, -3.54, -3.6, -3.65,
     -3.57, -3.62, -3.67, -3.59, -3.55, -3.61, -3.58, -3.64, -3.6, -3.54,
     -3.61, -3.66, -3.58, -3.62, -3.56, -3.61, -3.65, -3.59, -3.63, -3.55,
     -3.6, -3.64, -3.57, -3.53, -3.61, -3.66, -3.59, -3.62, -3.56, -3.6,
     -3.64, -3.58, -3.62, -3.55, -3.62, -3.67, -3.59, -3.61, -3.56, -3.63,
     -3.6, -3.55, -3.62, -3.58, -3.64, -3.61, -3.57, -3.63, -3.59, -3.62,
     -3.56, -3.62, -3.6, -3.64],
]

PANELS = [
    [L_CIFAR10, L_IMAGENET64, L_IMAGENET32],
    [U_CIFAR10, U_IMAGENET64, U_IMAGENET32],
]

# ---------------- layout helpers (pixel positions of the 998x348 canvas) ----------------
W, H = 998, 348
FONT = "DejaVu Sans"


def fx(p):
    return p / W


def fy(p):
    return 1 - p / H


fig = go.Figure()

axis_ids = [("x", "y"), ("x2", "y2")]
for panel, (xa, ya) in zip(PANELS, axis_ids):
    for runs, color in zip(panel, SERIES_COLORS):
        for run in runs:
            run = run[:len(ITERATIONS)]
            fig.add_trace(go.Scatter(
                x=ITERATIONS[:len(run)],
                y=[10 ** v for v in run],
                mode="lines",
                line=dict(color=color, width=1.3),
                opacity=0.4,
                xaxis=xa, yaxis=ya,
                hoverinfo="skip",
                showlegend=False,
            ))


def minor_vals(lo_exp, hi_exp):
    vals = []
    for e in range(lo_exp, hi_exp + 1):
        for m in range(2, 10):
            vals.append(m * 10.0 ** e)
    return vals


def sup(e):
    return "10<sup>" + ("\u2212" + str(-e) if e < 0 else str(e)) + "</sup>"


common_x = dict(
    tickvals=X_TICKS, ticks="outside", ticklen=4.7, tickwidth=1, tickcolor="black",
    showline=True, linecolor="black", linewidth=1, showgrid=False, zeroline=False,
    tickfont=dict(family=FONT, size=13, color="black"), automargin=False,
)
common_y = dict(
    type="log", ticks="outside", ticklen=4.7, tickwidth=1, tickcolor="black",
    showline=True, linecolor="black", linewidth=1, showgrid=False, zeroline=False,
    tickfont=dict(family=FONT, size=13, color="black"), automargin=False,
    domain=[fy(304), fy(26)],
)

fig.update_layout(
    width=W, height=H,
    margin=dict(l=0, r=0, t=0, b=0, autoexpand=False),
    paper_bgcolor="white", plot_bgcolor="white",
    showlegend=False,
    font=dict(family=FONT, color="black"),
    xaxis=dict(common_x, domain=[fx(70.3), fx(463)], range=[0, 77.5], anchor="y", mirror=True),
    yaxis=dict(common_y, range=[-5.39, -0.175], anchor="x", mirror=True,
               tickvals=[10.0 ** e for e in Y_TICK_EXP_L], ticktext=[sup(e) for e in Y_TICK_EXP_L],
               minor=dict(tickmode="array", tickvals=minor_vals(-6, 0), ticks="outside",
                          ticklen=2.7, tickwidth=0.8, tickcolor="black", showgrid=False)),
    xaxis2=dict(common_x, domain=[fx(615), 1.0], range=[0, 75.69], anchor="y2", mirror=True),
    yaxis2=dict(common_y, range=[-4.224, 0.83], anchor="x2", mirror=False,
                tickvals=[10.0 ** e for e in Y_TICK_EXP_U], ticktext=[sup(e) for e in Y_TICK_EXP_U],
                minor=dict(tickmode="array", tickvals=minor_vals(-5, 0), ticks="outside",
                           ticklen=2.7, tickwidth=0.8, tickcolor="black", showgrid=False)),
)

annotations = []
shapes = []

# titles and axis titles
panel_centers = [266.7, 811.5]
ylabel_x = [16, 560]
for title, cx, lx in zip(PANEL_TITLES, panel_centers, ylabel_x):
    annotations.append(dict(text=title, x=fx(cx), y=fy(14), xref="paper", yref="paper",
                            xanchor="center", yanchor="middle", showarrow=False,
                            font=dict(family=FONT, size=18.5, color="black")))
    annotations.append(dict(text="Iteration", x=fx(cx), y=fy(337), xref="paper", yref="paper",
                            xanchor="center", yanchor="middle", showarrow=False,
                            font=dict(family=FONT, size=18.5, color="black")))
    annotations.append(dict(text="Max difference", x=fx(lx), y=fy(165), xref="paper", yref="paper",
                            xanchor="center", yanchor="middle", showarrow=False, textangle=-90,
                            font=dict(family=FONT, size=18.5, color="black")))


def rounded_box(x0, y0, x1, y1, r):
    pts = [
        ("M", [(x0 + r, y0)]), ("L", [(x1 - r, y0)]), ("Q", [(x1, y0), (x1, y0 + r)]),
        ("L", [(x1, y1 - r)]), ("Q", [(x1, y1), (x1 - r, y1)]), ("L", [(x0 + r, y1)]),
        ("Q", [(x0, y1), (x0, y1 - r)]), ("L", [(x0, y0 + r)]), ("Q", [(x0, y0), (x0 + r, y0)]),
    ]
    s = ""
    for cmd, ps in pts:
        s += cmd + " " + " ".join(f"{fx(px):.5f},{fy(py):.5f}" for px, py in ps) + " "
    return s + "Z"


# legends (drawn manually so the right one can run off the canvas edge like the original)
legend_boxes = [(262.7, 34, 455, 111.7), (807.3, 34, 1010, 111.7)]
legend_line_x = [(267.3, 303.3), (811.7, 848.3)]
legend_text_x = [315, 860]
row_y = [47, 70.7, 94.7]
for box, (lx0, lx1), tx in zip(legend_boxes, legend_line_x, legend_text_x):
    shapes.append(dict(type="path", path=rounded_box(*box, 3), xref="paper", yref="paper",
                       fillcolor="rgba(255,255,255,0.8)", line=dict(color="#cccccc", width=1),
                       layer="above"))
    for name, color, ry in zip(SERIES_NAMES, SERIES_COLORS, row_y):
        shapes.append(dict(type="line", x0=fx(lx0), x1=fx(lx1), y0=fy(ry), y1=fy(ry),
                           xref="paper", yref="paper", line=dict(color=color, width=4), layer="above"))
        annotations.append(dict(text=name, x=fx(tx), y=fy(ry), xref="paper", yref="paper",
                                xanchor="left", yanchor="middle", showarrow=False,
                                font=dict(family=FONT, size=16, color="black")))

fig.update_layout(annotations=annotations, shapes=shapes)

# remove the browser's default page margin so the 998x348 figure fills the window exactly
fig.write_html("out.html", config={"displayModeBar": False},
               post_script="document.body.style.margin='0';document.body.style.overflow='hidden';")
